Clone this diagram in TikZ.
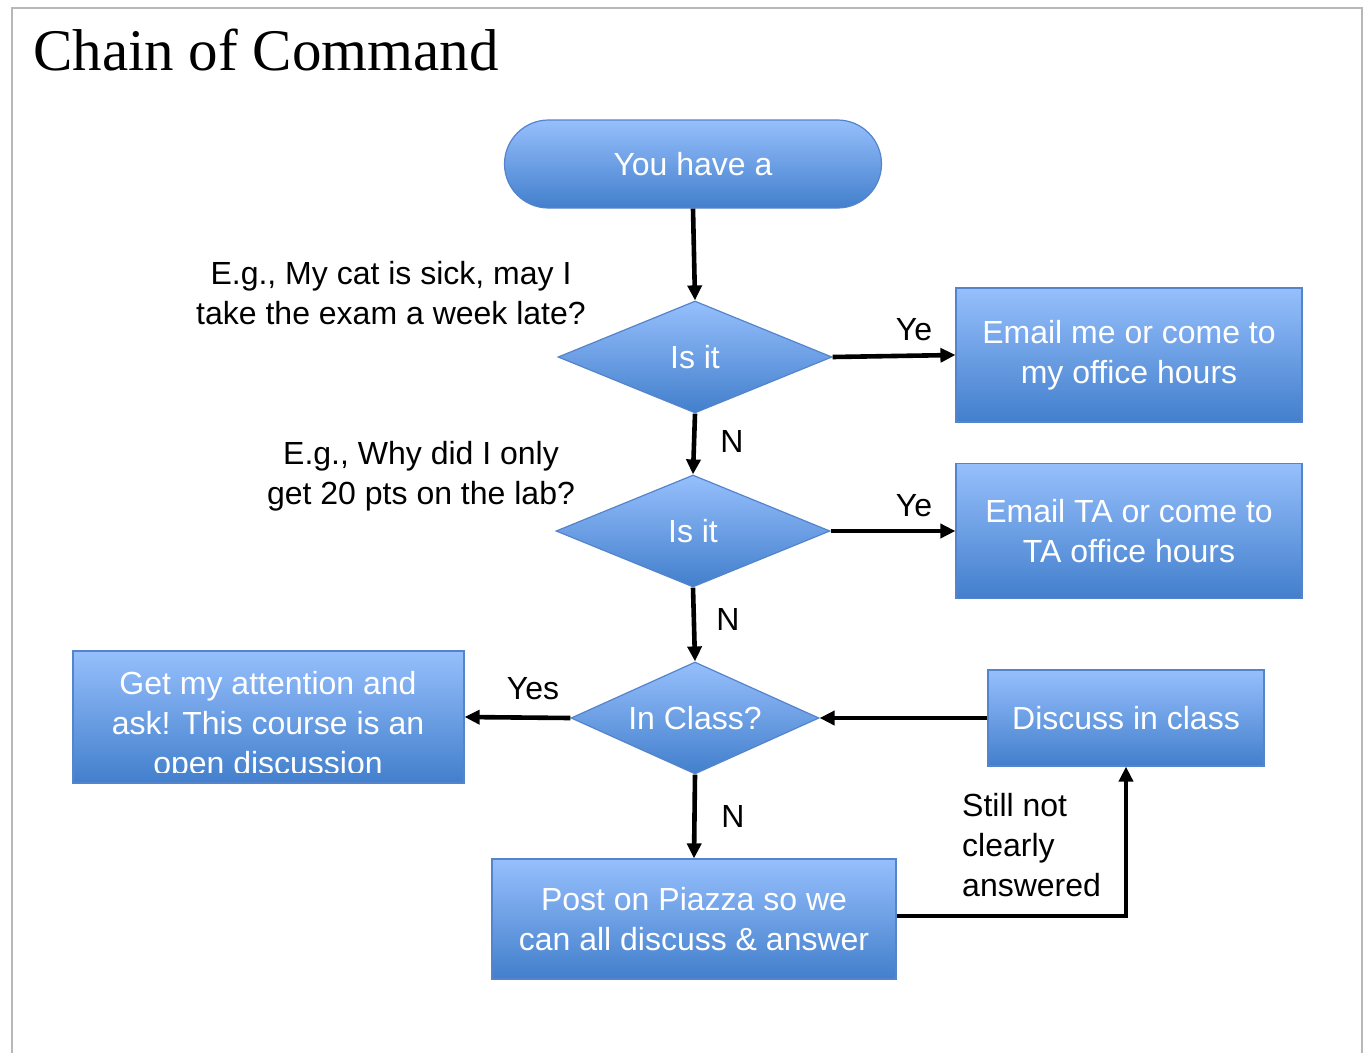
\documentclass[tikz,border=0pt]{standalone}
\usepackage{fontspec}
\setmainfont{Liberation Sans}
\newfontfamily\titlefont{Liberation Serif}
\usetikzlibrary{shapes.geometric,arrows.meta}
\definecolor{bluetop}{RGB}{150,191,252}
\definecolor{bluebot}{RGB}{66,127,204}
\definecolor{blueline}{RGB}{84,132,204}
\begin{document}
\begin{tikzpicture}[x=1pt,y=-1pt,
  shp/.style={draw=blueline, line width=1.2pt, top color=bluetop, bottom color=bluebot,
    text=white, font=\fontsize{32}{40}\selectfont, align=center, inner sep=0pt},
  boxn/.style={shp, rectangle},
  dia/.style={shp, diamond, shape aspect=2.4, minimum width=274pt, minimum height=112pt},
  lbl/.style={font=\fontsize{32}{40}\selectfont, text=black, inner sep=0pt},
  arr/.style={line width=4.6pt, -{Triangle[length=15pt,width=14pt]}}]
\useasboundingbox (0,0) rectangle (1363,1053);
\draw[black!28, line width=1.6pt] (12,1053) -- (12,8) -- (1362,8) -- (1362,1053);
\node[anchor=base west, inner sep=0pt, font=\titlefont\fontsize{59}{70}\selectfont] (title) at (33,70) {Chain of Command};

\node[shp, rectangle, rounded corners=44pt, minimum width=377pt, minimum height=88pt] (start) at (693,164) {You have a};
\node[dia] (d1) at (695,357) {Is it};
\node[dia] (d2) at (693,531) {Is it};
\node[dia, shape aspect=2.2, minimum width=248pt] (d3) at (695,718) {In Class?};
\node[boxn, minimum width=346pt, minimum height=134pt] (b1) at (1129,355) {Email me or come to\\my office hours};
\node[boxn, minimum width=346pt, minimum height=135pt] (b2) at (1129,531) {Email TA or come to\\TA office hours};
\node[boxn, minimum width=391pt, minimum height=132pt] (attn) at (268.5,717) {};
\begin{scope}
  \clip (60,640) rectangle (480,772);
  \node[anchor=base, text=white, font=\fontsize{32}{40}\selectfont, align=center, inner sep=0pt] (attntext) at (268,774) {Get my attention and\\ask! This course is an\\open discussion};
\end{scope}
\node[boxn, minimum width=276pt, minimum height=96pt] (disc) at (1126,718) {Discuss in class};
\node[boxn, minimum width=404pt, minimum height=120pt] (post) at (694,919) {Post on Piazza so we\\can all discuss \& answer};

\draw[arr] (start.south) -- (d1.north);
\draw[arr] (d1.east) -- (b1.west);
\draw[arr] (d1.south) -- (d2.north);
\draw[arr] (d2.east) -- (b2.west);
\draw[arr] (d2.south) -- (d3.north);
\draw[arr] (d3.west) -- (attn.east);
\draw[arr] (disc.west) -- (d3.east);
\draw[arr] (d3.south) -- (post.north);
\coordinate (corner) at (1126,916);
\draw[arr] (post.east |- corner) -- (corner) -- (disc.south);

\node[lbl] (y1) at (914,330) {Ye};
\node[lbl] (y2) at (914,506) {Ye};
\node[lbl] (n1) at (732,441) {N};
\node[lbl] (n2) at (728,619) {N};
\node[lbl] (n3) at (733,816) {N};
\node[lbl] (yes) at (533,689) {Yes};
\node[lbl, align=center] (eg1) at (391,293) {E.g., My cat is sick, may I\\take the exam a week late?};
\node[lbl, align=center] (eg2) at (421,476) {E.g., Why did I only\\get 20 pts on the lab?};
\node[lbl, align=left, anchor=west] (still) at (962,845) {Still not\\clearly\\answered};
\end{tikzpicture}
\end{document}
